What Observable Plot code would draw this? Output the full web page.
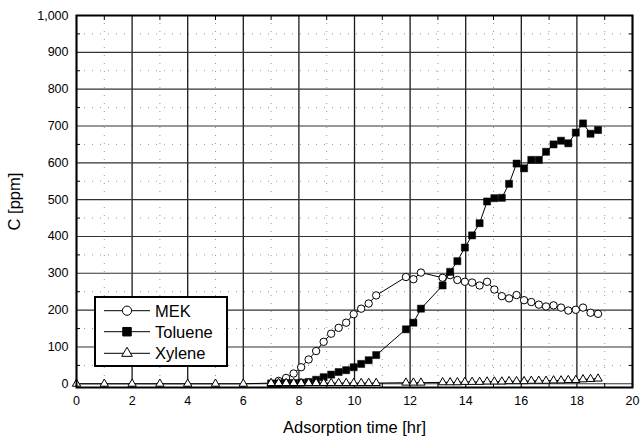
<!DOCTYPE html>
<html><head><meta charset="utf-8">
<script src="https://cdn.jsdelivr.net/npm/d3@7"></script>
<script src="https://cdn.jsdelivr.net/npm/@observablehq/plot@0.6"></script>
<style>
body{margin:0;background:#fff;font-family:"Liberation Sans",Arial,sans-serif;}
#wrap{position:relative;width:640px;height:441px;}
#legend{position:absolute;left:94px;top:296px;width:134px;height:71px;box-sizing:border-box;border:2px solid #000;background:#fff;}
</style></head>
<body><div id="wrap"></div>
<script>
// ---- data ----
const mekTime = [7.27,7.54,7.81,8.08,8.35,8.62,8.89,9.16,9.43,9.70,9.97,10.24,10.51,10.78,
  11.85,12.12,12.39,
  13.17,13.44,13.70,13.97,14.23,14.50,14.77,15.03,15.30,15.56,15.83,16.10,16.36,16.63,16.89,17.16,17.43,17.69,17.96,18.22,18.49,18.76];
const mekC = [8,16,28,45,66,89,114,136,152,166,189,204,218,240,
  290,284,302,
  288,295,282,277,275,267,277,256,238,232,241,227,222,215,210,213,207,199,201,207,193,190];
const tolTime = [7.00,7.27,7.54,7.81,8.08,8.35,8.62,8.89,9.16,9.43,9.70,9.97,10.24,10.51,10.78,
  11.85,12.12,12.39,
  13.17,13.44,13.70,13.97,14.23,14.50,14.77,15.03,15.30,15.56,15.83,16.10,16.36,16.63,16.89,17.16,17.43,17.69,17.96,18.22,18.49,18.76];
const tolC = [1,1,2,2,3,5,11,18,25,32,37,45,54,64,78,
  148,166,204,
  267,304,333,370,403,436,495,504,505,543,598,585,608,608,630,650,660,653,682,707,679,689];
const xylTime = [0,1,2,3,4,5,6,
  7.00,7.27,7.54,7.81,8.08,8.35,8.62,8.89,9.16,9.43,9.70,9.97,10.24,10.51,10.78,
  11.85,12.12,12.39,
  13.17,13.44,13.70,13.97,14.23,14.50,14.77,15.03,15.30,15.56,15.83,16.10,16.36,16.63,16.89,17.16,17.43,17.69,17.96,18.22,18.49,18.76];
const xylC = [0,0,0,0,0,0,0,
  2,2,2,2,2,2,2,2,2,2,2,2,2,2,2,
  3,3,3,
  4,4,4,5,5,5,6,6,6,7,7,7,8,8,8,9,9,10,10,12,13,14];
const xTicks = [0,2,4,6,8,10,12,14,16,18,20];
const xMinor = [1,3,5,7,9,11,13,15,17,19];
const yTicks = [0,100,200,300,400,500,600,700,800,900,1000];
const yMinor = [50,150,250,350,450,550,650,750,850,950];
const seriesNames = ["MEK","Toluene","Xylene"];

const mek = mekTime.map((t,i)=>({t, c:mekC[i]}));
const tol = tolTime.map((t,i)=>({t, c:tolC[i]}));
const xyl = xylTime.map((t,i)=>({t, c:xylC[i]}));

const font = '"Liberation Sans",Arial,sans-serif';
const plot = Plot.plot({
  width:640, height:441,
  marginLeft:76, marginRight:8, marginTop:15, marginBottom:54,
  x:{domain:[0,20]},
  y:{domain:[-10,1000]},
  style:{fontFamily:font, fontSize:"12px", background:"white", color:"black"},
  marks:[
    Plot.gridX({ticks:xMinor, stroke:"#999", strokeOpacity:1, strokeDasharray:"1,7"}),
    Plot.gridY({ticks:yMinor, stroke:"#999", strokeOpacity:1, strokeDasharray:"1,7"}),
    Plot.gridX({ticks:xTicks, stroke:"#1a1a1a", strokeOpacity:1, strokeWidth:1.3}),
    Plot.gridY({ticks:yTicks, stroke:"#333", strokeOpacity:1, strokeWidth:1.1}),
    Plot.axisX({ticks:xMinor, anchor:"bottom", tickSize:-4, text:null, label:null}),
    Plot.axisX({ticks:xMinor, anchor:"top", tickSize:-4, text:null, label:null}),
    Plot.axisY({ticks:yMinor, anchor:"left", tickSize:-4, text:null, label:null}),
    Plot.axisY({ticks:yMinor, anchor:"right", tickSize:-4, text:null, label:null}),
    Plot.axisX({ticks:xTicks, anchor:"bottom", tickSize:0, tickPadding:9, label:null, fontSize:12.5}),
    Plot.axisY({ticks:yTicks, anchor:"left", tickSize:0, tickPadding:8, tickFormat:d3.format(","), label:null, fontSize:12.5}),
    Plot.axisX({ticks:[], anchor:"bottom", label:"Adsorption time [hr]", labelAnchor:"center", labelArrow:"none", labelOffset:45, fontSize:16.5}),
    Plot.axisY({ticks:[], anchor:"left", label:"C [ppm]", labelAnchor:"center", labelArrow:"none", labelOffset:68, fontSize:16.5}),
    Plot.line(mek, {x:"t", y:"c", stroke:"black", strokeWidth:1}),
    Plot.dot(mek, {x:"t", y:"c", symbol:"circle", r:3.7, fill:"white", stroke:"black", strokeWidth:1}),
    Plot.line(tol, {x:"t", y:"c", stroke:"black", strokeWidth:1}),
    Plot.dot(tol, {x:"t", y:"c", symbol:"square", r:4, fill:"black", stroke:"black", strokeWidth:0.5}),
    Plot.line(xyl, {x:"t", y:"c", stroke:"black", strokeWidth:1}),
    Plot.dot(xyl, {x:"t", y:"c", symbol:"triangle", r:3.1, fill:"white", stroke:"black", strokeWidth:1}),
    Plot.frame({stroke:"black", strokeWidth:2})
  ]
});
const wrap = document.getElementById("wrap");
wrap.appendChild(plot);

// legend
const leg = document.createElement("div");
leg.id = "legend";
wrap.appendChild(leg);
const svg = d3.select(leg).append("svg").attr("width",130).attr("height",67).style("display","block");
const syms = [
  {s:d3.symbolCircle, size:Math.PI*4.6*4.6, fill:"white"},
  {s:d3.symbolSquare, size:72, fill:"black"},
  {s:d3.symbolTriangle, size:Math.PI*3.9*3.9, fill:"white"}
];
const rowY = [12.7, 33.7, 55.3];
seriesNames.forEach((name,i)=>{
  const g = svg.append("g").attr("transform",`translate(0,${rowY[i]})`);
  g.append("line").attr("x1",8).attr("x2",54).attr("y1",0).attr("y2",0).attr("stroke","black").attr("stroke-width",1);
  g.append("path").attr("d",d3.symbol(syms[i].s, syms[i].size)()).attr("transform","translate(31,0)")
    .attr("fill",syms[i].fill).attr("stroke","black").attr("stroke-width",1);
  g.append("text").attr("x",59).attr("y",0).attr("dy","0.36em").attr("font-size",16.5).attr("font-family",font).text(name);
});
</script>
</body></html>
